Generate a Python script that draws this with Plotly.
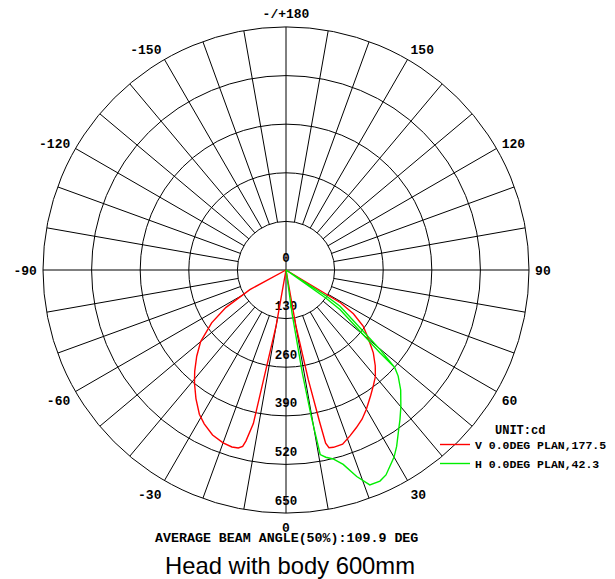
import plotly.graph_objects as go

# ---------------- data ----------------
# V plane (C0-C180) intensity in cd, angle in degrees (0 = nadir, + to the right)
V_THETA = [-90, -63, -61.5, -58, -54.6, -50, -46, -42, -39, -35, -31, -28, -24, -20, -17, -15, -13.8, -13.2, -12, -10, -8,
           8, 10, 11.5, 12.5, 12.9, 13.6, 15, 18, 21, 24, 27, 30, 34, 37, 40, 43, 46.5, 49, 51.5, 54, 57, 59, 60, 90]
V_CD = [0, 0, 110, 190, 244, 298, 332, 365, 389, 420, 450, 466, 483, 492, 495, 493, 486, 470, 420, 150, 0,
        0, 150, 300, 420, 475, 489, 491, 490, 476, 462, 448, 430, 405, 388, 372, 350, 322, 297, 275, 255, 215, 170, 0, 0]

# H plane (C90-C270) intensity in cd
H_THETA = [0, 7, 8, 9, 9.8, 10.5, 12, 14, 16.4, 18.9, 21.3, 24, 26, 27.9, 30, 32.1, 34.5, 37.3, 40, 43.7, 46.6, 48.1,
           49.8, 52, 56.2, 57.2, 58.5, 54.8, 53.8, 50.4, 48.6, 48.1]
H_CD = [0, 0, 120, 280, 400, 502, 512, 521, 542, 584, 617, 618, 610, 594, 578, 557, 530, 503, 478, 444, 413, 391,
        329, 251, 174, 127, 0, 131, 179, 257, 334, 391]

RADIAL_TICKS = [0, 130, 260, 390, 520, 650]
ANGLE_TICKS = [0, 30, 60, 90, 120, 150, 180, 210, 240, 270, 300, 330]
ANGLE_LABELS = ["0", "30", "60", "90", "120", "150", "-/+180", "-150", "-120", "-90", "-60", "-30"]
SPOKE_STEP = 10

V_NAME = "V 0.0DEG PLAN,177.5"
H_NAME = "H 0.0DEG PLAN,42.3"
UNIT = "UNIT:cd"
BEAM_TEXT = "AVERAGE BEAM ANGLE(50%):109.9 DEG"
TITLE = "Head with body 600mm"

# ---------------- figure ----------------
rmax = RADIAL_TICKS[-1]
inner = RADIAL_TICKS[1]

spoke_r, spoke_t = [], []
for a in range(0, 360, SPOKE_STEP):
    start = 0 if a % 90 == 0 else inner
    spoke_r += [start, rmax, None]
    spoke_t += [a, a, None]

mono = "Liberation Mono"

fig = go.Figure()
fig.add_trace(go.Scatterpolar(r=spoke_r, theta=spoke_t, mode="lines",
                              line=dict(color="black", width=1),
                              showlegend=False, hoverinfo="skip"))
fig.add_trace(go.Scatterpolar(r=RADIAL_TICKS, theta=[0] * len(RADIAL_TICKS),
                              mode="markers+text", text=[str(v) for v in RADIAL_TICKS],
                              textposition="top center",
                              marker=dict(size=7, opacity=0),
                              textfont=dict(family=mono, size=12.5, color="black", weight="bold"),
                              showlegend=False, hoverinfo="skip"))
fig.add_trace(go.Scatterpolar(r=V_CD, theta=V_THETA, mode="lines", name=V_NAME,
                              line=dict(color="#ff0000", width=1.4)))
fig.add_trace(go.Scatterpolar(r=H_CD, theta=H_THETA, mode="lines", name=H_NAME,
                              line=dict(color="#00ee00", width=1.4)))

# the page adds an 8px body margin, so the figure is sized/positioned to compensate
W, H = 607, 571
cx, cy, R = 278, 262, 243
fig.update_layout(
    width=W, height=H,
    margin=dict(l=0, r=0, t=0, b=0),
    paper_bgcolor="white",
    polar=dict(
        domain=dict(x=[(cx - R) / W, (cx + R) / W], y=[1 - (cy + R) / H, 1 - (cy - R) / H]),
        bgcolor="white",
        angularaxis=dict(rotation=270, direction="counterclockwise",
                         tickmode="array", tickvals=ANGLE_TICKS, ticktext=ANGLE_LABELS,
                         showgrid=False, showline=True, linecolor="black", linewidth=1,
                         ticks="outside", ticklen=3, tickcolor="rgba(0,0,0,0)",
                         tickfont=dict(family=mono, size=13, color="black", weight="bold")),
        radialaxis=dict(range=[0, rmax], tickmode="array", tickvals=RADIAL_TICKS[1:-1],
                        showgrid=True, gridcolor="black", gridwidth=1,
                        showline=False, showticklabels=False, ticks=""),
    ),
    showlegend=True,
    legend=dict(x=427 / W, y=1 - 422 / H, xanchor="left", yanchor="top",
                bgcolor="rgba(0,0,0,0)",
                font=dict(family=mono, size=11.5, color="black", weight="bold"),
                tracegroupgap=0),
    annotations=[
        dict(text=UNIT, x=512 / W, y=1 - 423 / H, xref="paper", yref="paper",
             showarrow=False, xanchor="center", yanchor="middle",
             font=dict(family=mono, size=12, color="black", weight="bold")),
        dict(text=BEAM_TEXT, x=cx / W, y=1 - 530 / H, xref="paper", yref="paper",
             showarrow=False, xanchor="center", yanchor="middle",
             font=dict(family=mono, size=13.3, color="black", weight="bold")),
        dict(text=TITLE, x=282 / W, y=1 - 557 / H, xref="paper", yref="paper",
             showarrow=False, xanchor="center", yanchor="middle",
             font=dict(family="Liberation Sans", size=23.8, color="black")),
    ],
)

fig.write_html("out.html")
